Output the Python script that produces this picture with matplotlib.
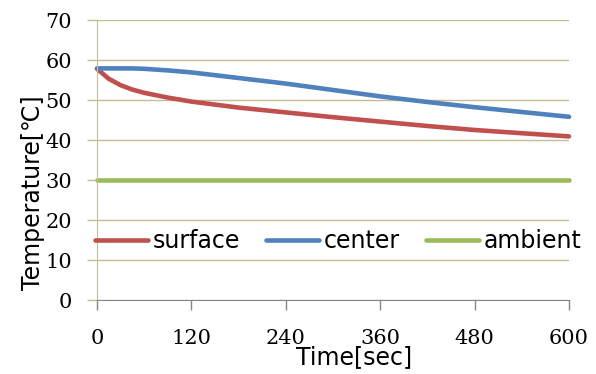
import matplotlib
matplotlib.use("Agg")
import matplotlib.pyplot as plt

# time axis and temperatures (deg C)
tiempo = [0, 15, 30, 45, 60, 90, 120, 180, 240, 300, 360, 420, 480, 540, 600]
superficie = [57.8, 55.3, 53.7, 52.6, 51.8, 50.6, 49.6, 48.1, 46.9, 45.7, 44.6, 43.5, 42.5, 41.7, 40.9]
centro = [57.9, 57.9, 57.9, 57.9, 57.8, 57.4, 56.9, 55.5, 54.1, 52.5, 50.9, 49.5, 48.2, 47.0, 45.8]
ambiente = [30.0] * len(tiempo)

xticks = [0, 120, 240, 360, 480, 600]
yticks = [0, 10, 20, 30, 40, 50, 60, 70]

W, H = 596, 374
fig = plt.figure(figsize=(W / 100, H / 100), dpi=100)
ax = fig.add_axes([97 / W, (H - 300) / H, (569 - 97) / W, 280 / H])

tan = "#C4BD97"
lw = 3.3
ax.plot(tiempo, superficie, color="#C0504D", lw=lw, solid_capstyle="round",
        solid_joinstyle="round", label="surface", clip_on=False)
ax.plot(tiempo, centro, color="#4F81BD", lw=lw, solid_capstyle="round",
        solid_joinstyle="round", label="center", clip_on=False)
ax.plot(tiempo, ambiente, color="#9BBB59", lw=lw, solid_capstyle="round",
        label="ambient", clip_on=False)

ax.set_xlim(0, 600)
ax.set_ylim(0, 70)
ax.set_xticks(xticks)
ax.set_yticks(yticks)
ax.grid(axis="y", color=tan, lw=1.0)
ax.set_axisbelow(True)

for s in ["top", "right"]:
    ax.spines[s].set_visible(False)
ax.spines["left"].set_color(tan)
ax.spines["bottom"].set_color("#868686")
ax.spines["bottom"].set_zorder(3)

ax.tick_params(axis="x", length=7, width=1, color="#868686", pad=14)
ax.tick_params(axis="y", length=7, width=1, color=tan, pad=11)
for lab in ax.get_xticklabels() + ax.get_yticklabels():
    lab.set_fontfamily("DejaVu Serif")
    lab.set_fontsize(15)

fig.text(33 / W, 1 - 193 / H, "Temperature[℃]", rotation=90, ha="center", va="center",
         fontsize=17, family="DejaVu Sans")
fig.text(354 / W, 1 - 357 / H, "Time[sec]", ha="center", va="center",
         fontsize=17, family="DejaVu Sans")

ax.legend(loc="center", bbox_to_anchor=(338 / W, 1 - 241 / H), bbox_transform=fig.transFigure,
          ncol=3, frameon=False, fontsize=17, handlelength=2.25, handletextpad=0.2,
          columnspacing=1.1, borderaxespad=0, borderpad=0)

fig.savefig("out.png", dpi=100)
